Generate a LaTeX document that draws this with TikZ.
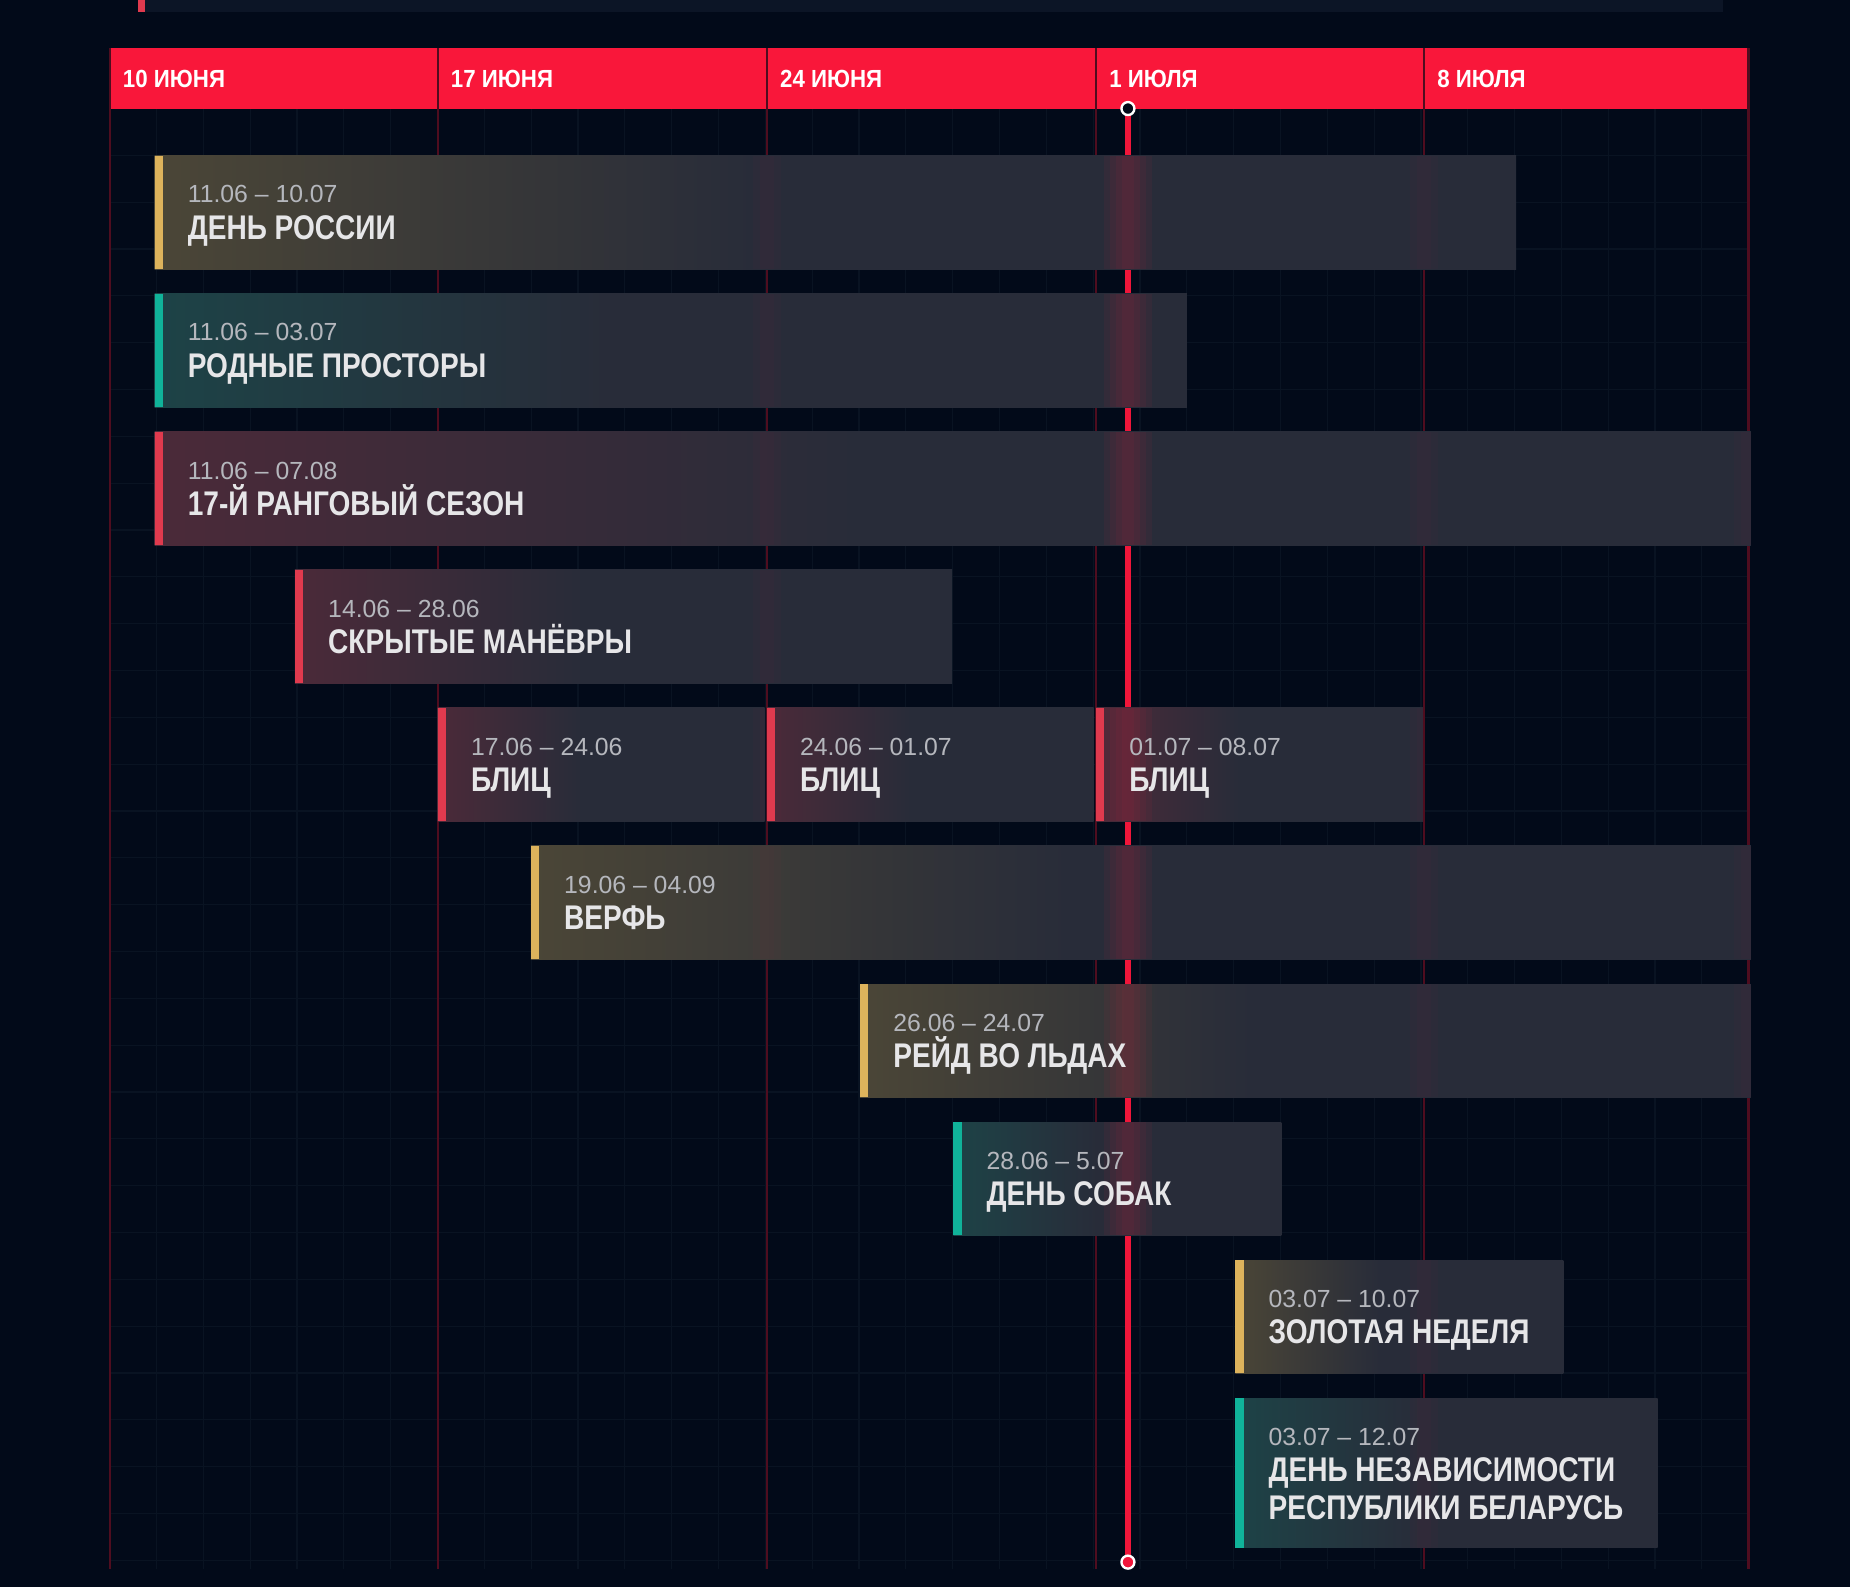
\documentclass[tikz,border=0pt]{standalone}
\usepackage{fontspec}
\usepackage{tikz}
\usepackage{xcolor}
\setmainfont{Liberation Sans}
\newfontfamily\condfont[FakeStretch=0.82]{Liberation Sans}
\newfontfamily\headfont[FakeStretch=0.9]{Liberation Sans}
\newfontfamily\datefont[FakeStretch=1.0]{Liberation Sans}
\definecolor{bgnavy}{HTML}{020A19}
\definecolor{stripnavy}{HTML}{0C1526}
\definecolor{headred}{HTML}{F9173A}
\definecolor{weekred}{HTML}{4F0D1F}
\definecolor{gridblue}{HTML}{091322}
\definecolor{nowred}{HTML}{F0163A}
\definecolor{barg}{HTML}{282C39}
\definecolor{tintgold}{HTML}{4B4637}
\definecolor{tintteal}{HTML}{1D4347}
\definecolor{tintred}{HTML}{4B2A39}
\definecolor{accgold}{HTML}{DDB35C}
\definecolor{accteal}{HTML}{10B39A}
\definecolor{accred}{HTML}{E03A4E}
\definecolor{glowred}{HTML}{E8223F}
\definecolor{datetxt}{HTML}{B5B7BD}
\definecolor{titletxt}{HTML}{E6E6E8}
% bar fills: tint on the left, plain grey from 45% on
\pgfdeclarehorizontalshading{barfillgold}{100bp}{color(0bp)=(tintgold); color(25bp)=(tintgold); color(47bp)=(barg); color(100bp)=(barg)}
\pgfdeclarehorizontalshading{barfillteal}{100bp}{color(0bp)=(tintteal); color(25bp)=(tintteal); color(47bp)=(barg); color(100bp)=(barg)}
\pgfdeclarehorizontalshading{barfillred}{100bp}{color(0bp)=(tintred); color(25bp)=(tintred); color(47bp)=(barg); color(100bp)=(barg)}
\tikzset{
  weekline/.style={draw=weekred,line width=2pt},
  gridline/.style={draw=gridblue,line width=1pt},
  nowline/.style={draw=nowred,line width=4.5pt},
  nowdot/.style={circle,draw=white,fill=nowred,line width=2pt,
                 minimum size=11pt,inner sep=0pt},
  headtext/.style={anchor=base west,inner sep=0pt,text=white,
                   font=\headfont\bfseries\fontsize{21}{24}\selectfont},
  datetext/.style={anchor=base west,inner sep=0pt,text=datetxt,
                   font=\datefont\fontsize{21}{24}\selectfont},
  titletext/.style={anchor=base west,inner sep=0pt,text=titletxt,
                    font=\condfont\bfseries\fontsize{29}{32}\selectfont}
}

\begin{document}
\begin{tikzpicture}[x=1pt,y=-1pt]
    \fill[bgnavy] (0,0) rectangle (1568,1345);
    \useasboundingbox (0,0) rectangle (1568,1345);
    % top strip
    \fill[stripnavy] (123,0) rectangle (1460,10);
    \fill[accred] (117,0) rectangle (123,10);
    % day grid
    \foreach \k in {0,...,35}{
      \draw[gridline] (93+\k*39.69,92) -- (93+\k*39.69,1330);
    }
    \foreach \k in {0,...,31}{
      \draw[gridline] (93,92+\k*39.69) -- (1482,92+\k*39.69);
    }
    % header
    \fill[headred] (93,41) rectangle (1482,92);
    \foreach \x in {93,371,650,929,1207,1482}{
      \draw[weekline] (\x,41) -- (\x,1330);
    }
    \foreach \h/\x/\lbl in {h1/93/10 ИЮНЯ, h2/371/17 ИЮНЯ, h3/650/24 ИЮНЯ,
                            h4/929/1 ИЮЛЯ, h5/1207/8 ИЮЛЯ}{
      \node[headtext] (\h) at (\x+11,74) {\lbl};
    }
    % today line
    \coordinate (nowtop) at (956,92);
    \coordinate (nowbot) at (956,1324);
    \draw[nowline] (nowtop) -- (nowbot);
    % events
    \foreach \nm/\xa/\xb/\yt/\hh/\ac/\tn/\evdate/\evname in {
      rossii/131/1285/132/96/accgold/gold/{11.06 – 10.07}/{ДЕНЬ РОССИИ},
      prostory/131/1006/249/96/accteal/teal/{11.06 – 03.07}/{РОДНЫЕ ПРОСТОРЫ},
      sezon/131/1484/366/96/accred/red/{11.06 – 07.08}/{17-Й РАНГОВЫЙ СЕЗОН},
      manevry/250/807/483/96/accred/red/{14.06 – 28.06}/{СКРЫТЫЕ МАНЁВРЫ},
      blitzA/371/648/600/96/accred/red/{17.06 – 24.06}/{БЛИЦ},
      blitzB/650/927/600/96/accred/red/{24.06 – 01.07}/{БЛИЦ},
      blitzC/929/1206/600/96/accred/red/{01.07 – 08.07}/{БЛИЦ},
      verf/450/1484/717/96/accgold/gold/{19.06 – 04.09}/{ВЕРФЬ},
      reid/729/1484/834/96/accgold/gold/{26.06 – 24.07}/{РЕЙД ВО ЛЬДАХ},
      sobak/808/1086/951/96/accteal/teal/{28.06 – 5.07}/{ДЕНЬ СОБАК},
      zoloto/1047/1325/1068/96/accgold/gold/{03.07 – 10.07}/{ЗОЛОТАЯ НЕДЕЛЯ},
      nezav/1047/1405/1185/127/accteal/teal/{03.07 – 12.07}/{\begin{tabular}[t]{@{}l@{}}ДЕНЬ НЕЗАВИСИМОСТИ\\РЕСПУБЛИКИ БЕЛАРУСЬ\end{tabular}}}{
      \shade[shading=barfill\tn] (\xa,\yt) rectangle (\xb,\yt+\hh);
      \begin{scope}
        \clip (\xa,\yt) rectangle (\xb,\yt+\hh);
        \foreach \gx in {650,1207,1482}{
          \foreach \w in {6,12}
            \fill[glowred,opacity=0.025] (\gx-\w,\yt) rectangle (\gx+\w,\yt+\hh);
        }
        \foreach \w in {5,10,15,20}
          \fill[glowred,opacity=0.06] (956-\w,\yt) rectangle (956+\w,\yt+\hh);
      \end{scope}
      \fill[\ac] (\xa,\yt) rectangle (\xa+7,\yt+\hh);
      \node[datetext] (\nm-date) at (\xa+28,\yt+40) {\evdate};
      \node[titletext] (\nm-title) at (\xa+28,\yt+71) {\evname};
    }
    \node[nowdot,fill=bgnavy] (topdot) at (nowtop) {};
    \node[nowdot] (botdot) at (nowbot) {};
\end{tikzpicture}
\end{document}
